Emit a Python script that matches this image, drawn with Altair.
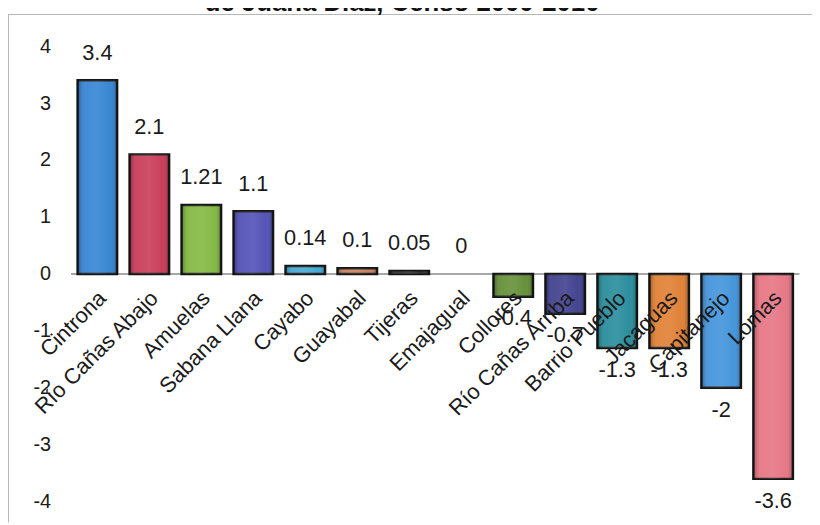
import altair as alt
import pandas as pd

barrios = ["Cintrona", "Río Cañas Abajo", "Amuelas", "Sabana Llana", "Cayabo",
           "Guayabal", "Tijeras", "Emajagual", "Collores", "Río Cañas Arriba",
           "Barrio Pueblo", "Jacaguas", "Capitanejo", "Lomas"]
cambio = [3.4, 2.1, 1.21, 1.1, 0.14, 0.1, 0.05, 0, -0.4, -0.7, -1.3, -1.3, -2, -3.6]
colores = ["#2b7fd1", "#c73350", "#7db63a", "#4a49b3", "#3aa6d6", "#c87a55",
           "#3a3a3a", "#888888", "#5d8b2f", "#38388a", "#1e8797", "#df7a2b",
           "#3a8fd9", "#e66f7e"]
y_ticks = [-4, -3, -2, -1, 0, 1, 2, 3, 4]
titulo = "de Juana Díaz, Censo 2000-2010"

FONT = "Liberation Sans"

df = pd.DataFrame({
    "barrio": barrios,
    "cambio": cambio,
    "etiqueta": [f"{v:g}" for v in cambio],
})

x_enc = alt.X("barrio:N", sort=barrios,
              scale=alt.Scale(paddingInner=0.24, paddingOuter=0.12), axis=None)
y_scale = alt.Scale(domain=[-4, 4], nice=False, zero=True)

base = alt.Chart(df)

bars = base.transform_filter("datum.cambio != 0").mark_bar(
    stroke="#151515", strokeWidth=2.5
).encode(
    x=x_enc,
    y=alt.Y("cambio:Q", scale=y_scale,
            axis=alt.Axis(values=y_ticks, grid=False, domain=False, ticks=False,
                          labelFontSize=20, labelFont=FONT, labelColor="#1a1a1a",
                          labelPadding=21, title=None,
                          labelExpr="datum.value + ''")),
    color=alt.Color("barrio:N", scale=alt.Scale(domain=barrios, range=colores), legend=None),
)

shade = alt.LinearGradient(
    gradient="linear", x1=0, x2=1, y1=0, y2=0,
    stops=[
        alt.GradientStop(color="rgba(0,0,0,0.30)", offset=0),
        alt.GradientStop(color="rgba(255,255,255,0.10)", offset=0.18),
        alt.GradientStop(color="rgba(255,255,255,0.14)", offset=0.5),
        alt.GradientStop(color="rgba(255,255,255,0.06)", offset=0.82),
        alt.GradientStop(color="rgba(0,0,0,0.30)", offset=1),
    ],
)
bar_shade = base.transform_filter("datum.cambio != 0").mark_bar(
    color=shade, strokeWidth=0
).encode(x=x_enc, y=alt.Y("cambio:Q", scale=y_scale))

zero_rule = base.mark_rule(color="#a8a8a8", strokeWidth=1).encode(y=alt.datum(0))

lab_pos = base.transform_filter("datum.cambio >= 0").mark_text(
    dy=-28, baseline="middle", align="center", fontSize=22, font=FONT, color="#1a1a1a"
).encode(x=x_enc, y=alt.Y("cambio:Q", scale=y_scale), text="etiqueta:N")

lab_neg = base.transform_filter("datum.cambio < 0").mark_text(
    dy=22, baseline="middle", align="center", fontSize=22, font=FONT, color="#1a1a1a"
).encode(x=x_enc, y=alt.Y("cambio:Q", scale=y_scale), text="etiqueta:N")

cat_labels = base.mark_text(
    angle=315, align="right", baseline="middle", dx=-11.3, dy=18.4,
    fontSize=22, font=FONT, color="#1a1a1a"
).encode(x=x_enc, y=alt.datum(0), text="barrio:N")

one = pd.DataFrame({"t": [titulo]})
title_mark = alt.Chart(one).mark_text(
    fontSize=26, fontWeight="bold", font=FONT, align="center",
    baseline="alphabetic", color="#111"
).encode(text="t:N", x=alt.value(334), y=alt.value(-36))

border_v = alt.Chart(one).mark_rule(color="#b5b5b5", strokeWidth=1).encode(
    x=alt.value(-63.5), y=alt.value(-32), y2=alt.value(481))
border_h = alt.Chart(one).mark_rule(color="#b5b5b5", strokeWidth=1).encode(
    x=alt.value(-64), x2=alt.value(748), y=alt.value(-32))

chart = alt.layer(
    border_v, border_h, zero_rule, bars, bar_shade, lab_pos, lab_neg, cat_labels, title_mark
).properties(
    width=735, height=460,
    padding={"left": 64, "top": 36, "right": 13, "bottom": 21},
    autosize="none",
).configure_view(stroke=None)

chart.save("out.html", embed_options={"renderer": "svg", "actions": False})
